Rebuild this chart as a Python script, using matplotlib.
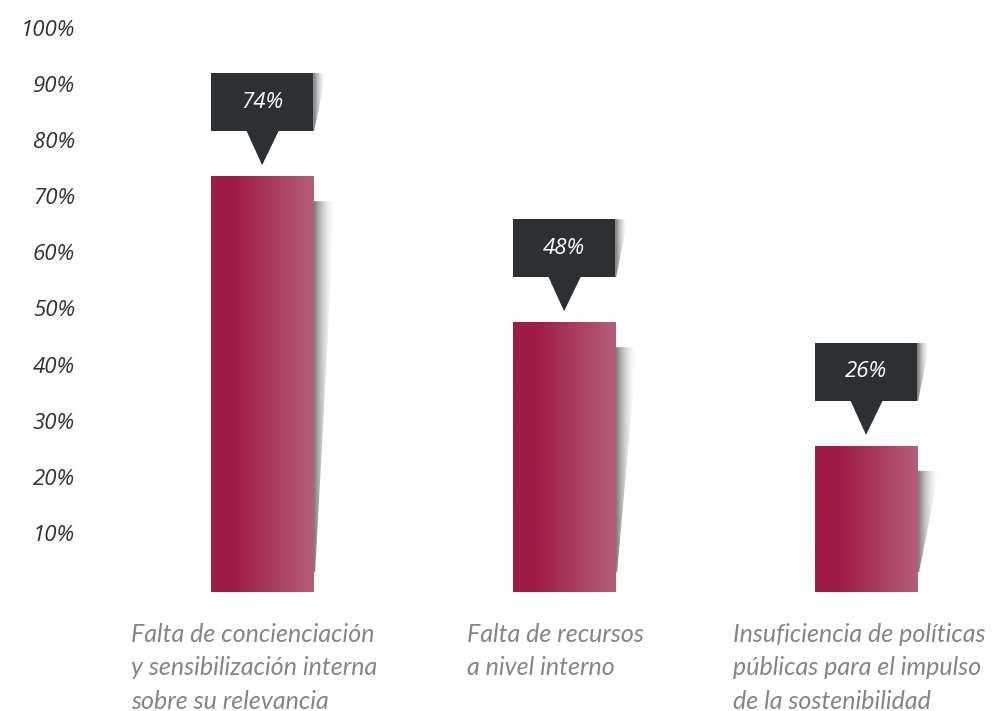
import numpy as np
import matplotlib.pyplot as plt
from matplotlib.patches import Polygon, Rectangle

# Datos
categorias = ['Falta de concienciación\ny sensibilización interna\nsobre su relevancia',
              'Falta de recursos\na nivel interno',
              'Insuficiencia de políticas\npúblicas para el impulso\nde la sostenibilidad']
valores = [74, 48, 26]
etiquetas = ['74%', '48%', '26%']
ticks_y = [10, 20, 30, 40, 50, 60, 70, 80, 90, 100]

fig = plt.figure(figsize=(9.95, 7.11), dpi=100)
ax = fig.add_axes([90 / 995, 119 / 711, 905 / 995, 582 / 711])
ax.set_xlim(-0.57, 2.427)
ax.set_ylim(0, 582 / 5.62)
for s in ax.spines.values():
    s.set_visible(False)
ax.set_xticks([])
ax.set_yticks([])

# escala de pixeles a datos
px_x = 1 / 302.0
px_y = 1 / 5.62

# gradiente de la barra
c_izq = np.array([158, 27, 70]) / 255
c_der = np.array([182, 94, 120]) / 255
t = np.linspace(0, 1, 200)
t = np.clip((t - 0.22) / 0.78, 0, 1)
grad = c_izq[None, :] * (1 - t[:, None]) + c_der[None, :] * t[:, None]
grad = grad[None, :, :]

# gradiente de sombra (gris que se desvanece)
sx = np.linspace(0, 1, 100)
sombra = np.zeros((1, 100, 4))
sombra[..., :3] = 0.25
sombra[0, :, 3] = 0.75 * (1 - sx) ** 1.8

x_pos = np.arange(len(valores))
barras = ax.bar(x_pos, valores, width=0.338, color='none', edgecolor='none')

caja = '#2d3032'
for b, v, lab in zip(barras, valores, etiquetas):
    x0 = b.get_x()
    x1 = x0 + b.get_width()
    xc = x0 + b.get_width() / 2
    top = b.get_height()

    # sombra de la barra
    s_top = top - 25 * px_y
    s_bot = 20 * px_y
    poly = Polygon([(x1, s_top), (x1 + 22 * px_x, s_top), (x1 + 2 * px_x, s_bot), (x1, s_bot)],
                   closed=True, facecolor='none', edgecolor='none')
    ax.add_patch(poly)
    im = ax.imshow(sombra, extent=(x1, x1 + 22 * px_x, s_bot, s_top), aspect='auto',
                   interpolation='bilinear', zorder=1)
    im.set_clip_path(poly)

    # barra con gradiente
    im = ax.imshow(grad, extent=(x0, x1, 0, top), aspect='auto', interpolation='bilinear', zorder=2)
    im.set_clip_path(b)

    # caja de etiqueta
    tip = top + 11 * px_y
    base = tip + 34 * px_y
    btop = base + 58 * px_y
    poly = Polygon([(x1, btop), (x1 + 13 * px_x, btop), (x1 + 1 * px_x, base), (x1, base)],
                   closed=True, facecolor='none', edgecolor='none')
    ax.add_patch(poly)
    im = ax.imshow(sombra, extent=(x1, x1 + 13 * px_x, base, btop), aspect='auto',
                   interpolation='bilinear', zorder=1)
    im.set_clip_path(poly)
    ax.add_patch(Rectangle((x0, base), x1 - x0, btop - base, facecolor=caja, edgecolor='none', zorder=3))
    ax.add_patch(Polygon([(xc - 16 * px_x, base + 0.2), (xc + 17 * px_x, base + 0.2), (xc, tip)],
                         closed=True, facecolor=caja, edgecolor='none', zorder=3))
    ax.text(xc, (base + btop) / 2, lab, color='white', fontsize=16, style='italic',
            family='Open Sans', ha='center', va='center', zorder=4)

# etiquetas del eje y
for tv in ticks_y:
    ax.text(-0.619, tv, f'{tv}%', color='#333333', fontsize=16, style='italic',
            family='Open Sans', ha='right', va='center', transform=ax.transData, clip_on=False)

# etiquetas de categorias
x_text = [131, 467, 733]
for xt, cat in zip(x_text, categorias):
    fig.text(xt / 995, 1 - 623 / 711, cat, color='#858585', fontsize=18, style='italic',
             family='Lato', ha='left', va='top', linespacing=1.55)

fig.savefig('out.png', dpi=100)
